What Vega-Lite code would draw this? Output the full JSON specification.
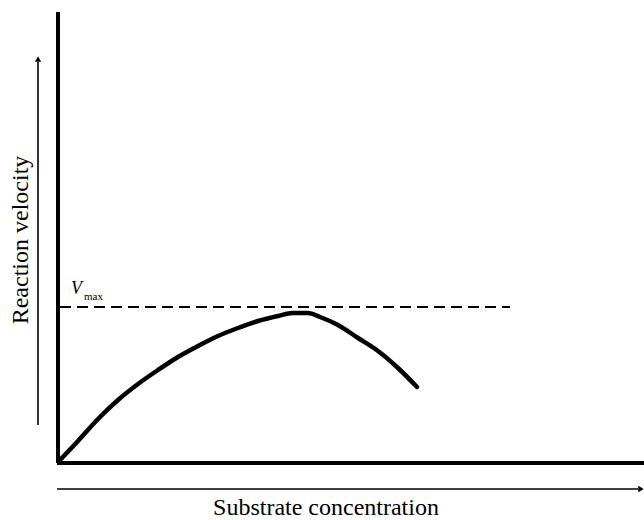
{
  "$schema": "https://vega.github.io/schema/vega-lite/v6.json",
  "width": 644,
  "height": 520,
  "padding": 0,
  "autosize": {"type": "none"},
  "background": "white",
  "config": {"view": {"stroke": null}, "font": "Liberation Serif"},
  "datasets": {
    "curve": [
      {"s": 2, "v": 3}, {"s": 20, "v": 22}, {"s": 40, "v": 44}, {"s": 60, "v": 63},
      {"s": 80, "v": 79}, {"s": 100, "v": 93}, {"s": 120, "v": 106}, {"s": 140, "v": 117},
      {"s": 160, "v": 127}, {"s": 180, "v": 135}, {"s": 200, "v": 142}, {"s": 220, "v": 147},
      {"s": 235, "v": 150}, {"s": 250, "v": 150}, {"s": 262, "v": 146}, {"s": 280, "v": 138},
      {"s": 300, "v": 125}, {"s": 320, "v": 112}, {"s": 340, "v": 95}, {"s": 359, "v": 76}
    ],
    "axes": [
      {"x1": 0, "x2": 0, "y1": 0, "y2": 451, "kind": "yaxis"},
      {"x1": -1, "x2": 586, "y1": 0, "y2": 0, "kind": "xaxis"}
    ],
    "arrows": [
      {"x1": -20, "x2": -20, "y1": 38, "y2": 401, "kind": "varrow"},
      {"x1": -1, "x2": 580, "y1": -26, "y2": -26, "kind": "harrow"}
    ],
    "heads": [
      {"x": -20, "y": 404, "shape": "triangle-up"},
      {"x": 583, "y": -26, "shape": "triangle-right"}
    ],
    "vmax": [{"x1": 2, "x2": 452, "y": 156}]
  },
  "encoding": {},
  "layer": [
    {
      "data": {"name": "axes"},
      "mark": {"type": "rule", "strokeWidth": 4, "color": "black", "clip": false},
      "encoding": {
        "x": {"field": "x1", "type": "quantitative", "scale": {"domain": [-58, 586], "nice": false, "zero": false}, "axis": null},
        "x2": {"field": "x2"},
        "y": {"field": "y1", "type": "quantitative", "scale": {"domain": [-57, 463], "nice": false, "zero": false}, "axis": null},
        "y2": {"field": "y2"}
      }
    },
    {
      "data": {"name": "arrows"},
      "mark": {"type": "rule", "strokeWidth": 1.6, "color": "black", "clip": false},
      "encoding": {
        "x": {"field": "x1", "type": "quantitative"},
        "x2": {"field": "x2"},
        "y": {"field": "y1", "type": "quantitative"},
        "y2": {"field": "y2"}
      }
    },
    {
      "data": {"name": "heads"},
      "mark": {"type": "point", "filled": true, "color": "black", "size": 40, "opacity": 1},
      "encoding": {
        "x": {"field": "x", "type": "quantitative"},
        "y": {"field": "y", "type": "quantitative"},
        "shape": {"field": "shape", "type": "nominal", "scale": null}
      }
    },
    {
      "data": {"name": "vmax"},
      "mark": {"type": "rule", "strokeWidth": 2, "color": "black", "strokeDash": [11, 6]},
      "encoding": {
        "x": {"field": "x1", "type": "quantitative"},
        "x2": {"field": "x2"},
        "y": {"field": "y", "type": "quantitative"}
      }
    },
    {
      "data": {"name": "curve"},
      "mark": {"type": "line", "strokeWidth": 4.5, "color": "black", "interpolate": "monotone", "strokeCap": "round"},
      "encoding": {
        "x": {"field": "s", "type": "quantitative"},
        "y": {"field": "v", "type": "quantitative"}
      }
    },
    {
      "data": {"values": [{"x": 13, "y": 174, "t": "V"}]},
      "mark": {"type": "text", "font": "Liberation Serif", "fontSize": 18, "fontStyle": "italic", "color": "black", "baseline": "middle", "align": "left"},
      "encoding": {
        "x": {"field": "x", "type": "quantitative"},
        "y": {"field": "y", "type": "quantitative"},
        "text": {"field": "t"}
      }
    },
    {
      "data": {"values": [{"x": 26, "y": 166, "t": "max"}]},
      "mark": {"type": "text", "font": "Liberation Serif", "fontSize": 11, "color": "black", "baseline": "middle", "align": "left"},
      "encoding": {
        "x": {"field": "x", "type": "quantitative"},
        "y": {"field": "y", "type": "quantitative"},
        "text": {"field": "t"}
      }
    },
    {
      "data": {"values": [{"x": -30, "y": 223, "t": "Reaction velocity"}]},
      "mark": {"type": "text", "font": "Liberation Serif", "fontSize": 24, "angle": 270, "color": "black", "baseline": "alphabetic", "align": "center"},
      "encoding": {
        "x": {"field": "x", "type": "quantitative"},
        "y": {"field": "y", "type": "quantitative"},
        "text": {"field": "t"}
      }
    },
    {
      "data": {"values": [{"x": 268, "y": -52, "t": "Substrate concentration"}]},
      "mark": {"type": "text", "font": "Liberation Serif", "fontSize": 24, "color": "black", "baseline": "alphabetic", "align": "center"},
      "encoding": {
        "x": {"field": "x", "type": "quantitative"},
        "y": {"field": "y", "type": "quantitative"},
        "text": {"field": "t"}
      }
    }
  ]
}
